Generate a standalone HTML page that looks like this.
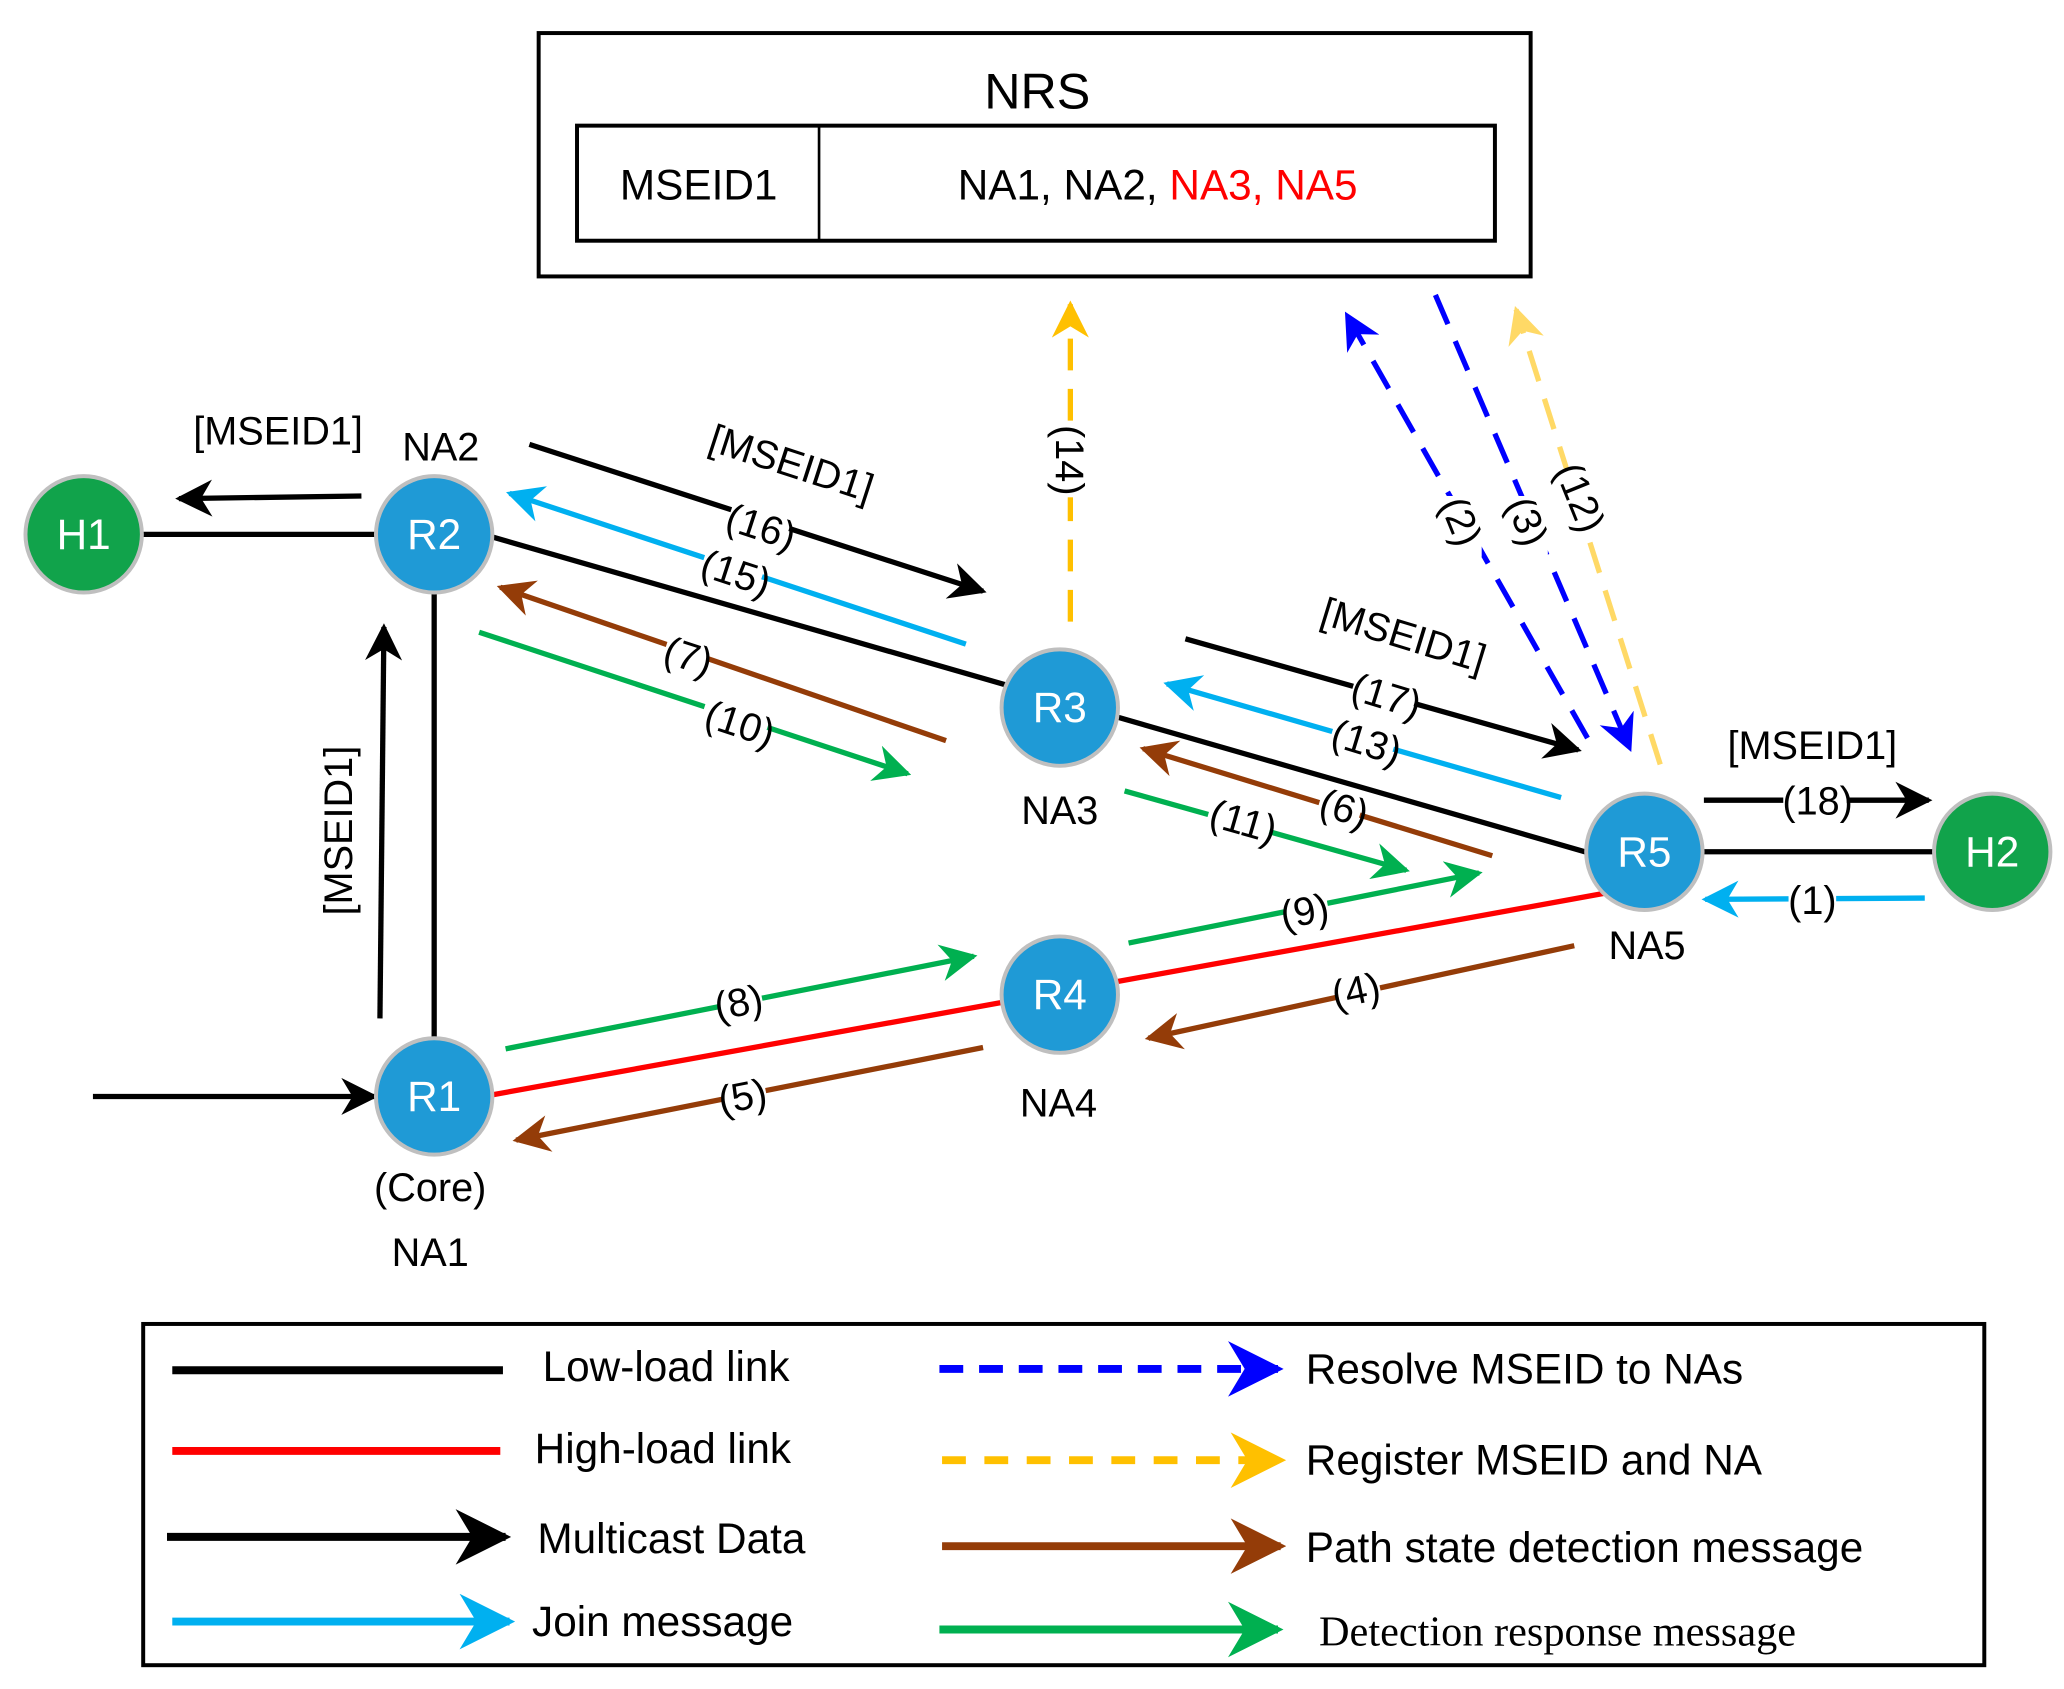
<!DOCTYPE html>
<html><head><meta charset="utf-8"><style>html,body{margin:0;padding:0;background:#fff}svg{display:block}</style></head>
<body>
<svg width="2064" height="1689" viewBox="0 0 1560 1277" xmlns="http://www.w3.org/2000/svg" font-family="'Liberation Sans', sans-serif">
<defs>
<marker id="mk" viewBox="0 0 10 10" refX="9" refY="5" markerWidth="7" markerHeight="7" orient="auto"><path d="M0,0 L10,5 L0,10 L3,5 z" fill="#000"/></marker>
<marker id="mc" viewBox="0 0 10 10" refX="9" refY="5" markerWidth="7" markerHeight="7" orient="auto"><path d="M0,0 L10,5 L0,10 L3,5 z" fill="#00b0f0"/></marker>
<marker id="mb" viewBox="0 0 10 10" refX="9" refY="5" markerWidth="7" markerHeight="7" orient="auto"><path d="M0,0 L10,5 L0,10 L3,5 z" fill="#943c08"/></marker>
<marker id="mg" viewBox="0 0 10 10" refX="9" refY="5" markerWidth="7" markerHeight="7" orient="auto"><path d="M0,0 L10,5 L0,10 L3,5 z" fill="#00b050"/></marker>
<marker id="my" viewBox="0 0 10 10" refX="9" refY="5" markerWidth="7" markerHeight="7" orient="auto"><path d="M0,0 L10,5 L0,10 L3,5 z" fill="#ffc000"/></marker>
<marker id="ml" viewBox="0 0 10 10" refX="9" refY="5" markerWidth="7" markerHeight="7" orient="auto"><path d="M0,0 L10,5 L0,10 L3,5 z" fill="#ffd966"/></marker>
<marker id="mu" viewBox="0 0 10 10" refX="9" refY="5" markerWidth="7" markerHeight="7" orient="auto"><path d="M0,0 L10,5 L0,10 L3,5 z" fill="#0000ff"/></marker>
</defs>

<!-- NRS -->
<rect x="407" y="25" width="750" height="184" fill="#fff" stroke="#000" stroke-width="3"/>
<text x="784" y="82" font-size="38" text-anchor="middle">NRS</text>
<rect x="436" y="95" width="694" height="87" fill="none" stroke="#000" stroke-width="3"/>
<line x1="619" y1="95" x2="619" y2="182" stroke="#000" stroke-width="2"/>
<text x="528" y="151" font-size="32" text-anchor="middle">MSEID1</text>
<text x="875" y="151" font-size="32" text-anchor="middle">NA1, NA2, <tspan fill="#ff0000">NA3, NA5</tspan></text>

<!-- links -->
<line x1="105" y1="404" x2="290" y2="404" stroke="#000" stroke-width="4"/>
<line x1="328" y1="440" x2="328" y2="790" stroke="#000" stroke-width="4"/>
<line x1="365" y1="404" x2="1205" y2="646" stroke="#000" stroke-width="4"/>
<line x1="365" y1="829" x2="1215" y2="675" stroke="#ff0000" stroke-width="4"/>
<line x1="1280" y1="644" x2="1470" y2="644" stroke="#000" stroke-width="4"/>

<!-- arrows -->
<g stroke-width="4" fill="none">
<line x1="273" y1="375" x2="135" y2="377" stroke="#000" marker-end="url(#mk)"/>
<line x1="400" y1="336" x2="743" y2="447" stroke="#000" marker-end="url(#mk)"/>
<line x1="730" y1="487" x2="385" y2="373" stroke="#00b0f0" marker-end="url(#mc)"/>
<line x1="715" y1="560" x2="378" y2="444" stroke="#943c08" marker-end="url(#mb)"/>
<line x1="362" y1="478" x2="686" y2="585" stroke="#00b050" marker-end="url(#mg)"/>
<line x1="287" y1="770" x2="290" y2="474" stroke="#000" marker-end="url(#mk)"/>
<line x1="70" y1="829" x2="283" y2="829" stroke="#000" marker-end="url(#mk)"/>
<line x1="809" y1="470" x2="809" y2="230" stroke="#ffc000" stroke-dasharray="24,14" marker-end="url(#my)"/>
<line x1="1200" y1="558" x2="1018" y2="238" stroke="#0000ff" stroke-dasharray="24,14" marker-end="url(#mu)"/>
<line x1="1085" y1="223" x2="1232" y2="566" stroke="#0000ff" stroke-dasharray="24,14" marker-end="url(#mu)"/>
<line x1="1255" y1="578" x2="1146" y2="234" stroke="#ffd966" stroke-dasharray="24,14" marker-end="url(#ml)"/>
<line x1="896" y1="483" x2="1193" y2="567" stroke="#000" marker-end="url(#mk)"/>
<line x1="1180" y1="603" x2="882" y2="517" stroke="#00b0f0" marker-end="url(#mc)"/>
<line x1="1128" y1="647" x2="864" y2="566" stroke="#943c08" marker-end="url(#mb)"/>
<line x1="850" y1="598" x2="1063" y2="658" stroke="#00b050" marker-end="url(#mg)"/>
<line x1="853" y1="713" x2="1118" y2="660" stroke="#00b050" marker-end="url(#mg)"/>
<line x1="382" y1="793" x2="736" y2="723" stroke="#00b050" marker-end="url(#mg)"/>
<line x1="743" y1="792" x2="390" y2="862" stroke="#943c08" marker-end="url(#mb)"/>
<line x1="1190" y1="715" x2="868" y2="785" stroke="#943c08" marker-end="url(#mb)"/>
<line x1="1288" y1="605" x2="1458" y2="605" stroke="#000" marker-end="url(#mk)"/>
<line x1="1455" y1="679" x2="1289" y2="680" stroke="#00b0f0" marker-end="url(#mc)"/>
</g>

<!-- label backgrounds + labels -->
<g font-size="30" text-anchor="middle">
<text x="210" y="336">[MSEID1]</text>
<text x="333" y="348">NA2</text>
<text transform="translate(595,360) rotate(18)">[MSEID1]</text>
<g><rect x="550" y="382" width="46" height="30" fill="#fff" transform="rotate(18,572,397)"/><text transform="translate(572,408) rotate(18)">(16)</text></g>
<g><rect x="530" y="418" width="46" height="30" fill="#fff" transform="rotate(18,553,432)"/><text transform="translate(553,443) rotate(18)">(15)</text></g>
<g><rect x="502" y="480" width="32" height="30" fill="#fff" transform="rotate(18,517,495)"/><text transform="translate(517,506) rotate(18)">(7)</text></g>
<g><rect x="530" y="531" width="50" height="30" fill="#fff" transform="rotate(18,556,546)"/><text transform="translate(556,557) rotate(18)">(10)</text></g>
<text transform="translate(266,628) rotate(-90)">[MSEID1]</text>
<g><rect x="792" y="320" width="34" height="56" fill="#fff"/><text transform="translate(798,348) rotate(90)">(14)</text></g>
<g><rect x="1090" y="375" width="30" height="46" fill="#fff"/><text transform="translate(1095,398) rotate(68)">(2)</text></g>
<g><rect x="1140" y="375" width="30" height="46" fill="#fff"/><text transform="translate(1145,398) rotate(68)">(3)</text></g>
<g><rect x="1180" y="355" width="30" height="50" fill="#fff"/><text transform="translate(1185,380) rotate(68)">(12)</text></g>
<text transform="translate(1058,490) rotate(17)">[MSEID1]</text>
<g><rect x="1022" y="510" width="48" height="30" fill="#fff" transform="rotate(17,1045,525)"/><text transform="translate(1045,536) rotate(17)">(17)</text></g>
<g><rect x="1006" y="545" width="48" height="30" fill="#fff" transform="rotate(17,1030,560)"/><text transform="translate(1030,571) rotate(17)">(13)</text></g>
<g><rect x="997" y="595" width="32" height="30" fill="#fff" transform="rotate(17,1013,610)"/><text transform="translate(1013,621) rotate(17)">(6)</text></g>
<g><rect x="913" y="605" width="48" height="30" fill="#fff" transform="rotate(16,937,620)"/><text transform="translate(937,631) rotate(16)">(11)</text></g>
<g><rect x="972" y="673" width="32" height="30" fill="#fff" transform="rotate(-11,988,688)"/><text transform="translate(988,699) rotate(-11)">(9)</text></g>
<g><rect x="544" y="742" width="32" height="30" fill="#fff" transform="rotate(-11,560,757)"/><text transform="translate(560,768) rotate(-11)">(8)</text></g>
<g><rect x="547" y="813" width="32" height="30" fill="#fff" transform="rotate(-11,563,828)"/><text transform="translate(563,839) rotate(-11)">(5)</text></g>
<g><rect x="1011" y="733" width="32" height="30" fill="#fff" transform="rotate(-12,1027,748)"/><text transform="translate(1027,759) rotate(-12)">(4)</text></g>
<text x="1370" y="574">[MSEID1]</text>
<g><rect x="1348" y="590" width="48" height="30" fill="#fff"/><text x="1374" y="616">(18)</text></g>
<g><rect x="1352" y="665" width="36" height="30" fill="#fff"/><text x="1370" y="691">(1)</text></g>
<text x="801" y="623">NA3</text>
<text x="1245" y="725">NA5</text>
<text x="800" y="844">NA4</text>
<text x="325" y="908">(Core)</text>
<text x="325" y="957">NA1</text>
</g>

<!-- nodes -->
<g stroke="#bfbfbf" stroke-width="3">
<circle cx="63" cy="404" r="44" fill="#11a34b"/>
<circle cx="1506" cy="644" r="44" fill="#11a34b"/>
<circle cx="328" cy="404" r="44" fill="#1f9ad6"/>
<circle cx="801" cy="535" r="44" fill="#1f9ad6"/>
<circle cx="801" cy="752" r="44" fill="#1f9ad6"/>
<circle cx="1243" cy="644" r="44" fill="#1f9ad6"/>
<circle cx="328" cy="829" r="44" fill="#1f9ad6"/>
</g>
<g font-size="32" fill="#fff" text-anchor="middle">
<text x="63" y="415">H1</text><text x="1506" y="655">H2</text>
<text x="328" y="415">R2</text><text x="801" y="546">R3</text>
<text x="801" y="763">R4</text><text x="1243" y="655">R5</text>
<text x="328" y="840">R1</text>
</g>

<!-- legend -->
<rect x="108" y="1001" width="1392" height="258" fill="none" stroke="#000" stroke-width="3"/>
<g stroke-width="6" fill="none">
<line x1="130" y1="1036" x2="380" y2="1036" stroke="#000"/>
<line x1="130" y1="1097" x2="378" y2="1097" stroke="#ff0000"/>
<line x1="126" y1="1162" x2="382" y2="1162" stroke="#000" marker-end="url(#mk)"/>
<line x1="130" y1="1226" x2="385" y2="1226" stroke="#00b0f0" marker-end="url(#mc)"/>
<line x1="710" y1="1035" x2="966" y2="1035" stroke="#0000ff" stroke-dasharray="18,12" marker-end="url(#mu)"/>
<line x1="712" y1="1104" x2="968" y2="1104" stroke="#ffc000" stroke-dasharray="18,14" marker-end="url(#my)"/>
<line x1="712" y1="1169" x2="968" y2="1169" stroke="#943c08" marker-end="url(#mb)"/>
<line x1="710" y1="1232" x2="966" y2="1232" stroke="#00b050" marker-end="url(#mg)"/>
</g>
<g font-size="32">
<text x="410" y="1044">Low-load link</text>
<text x="404" y="1106">High-load link</text>
<text x="406" y="1174">Multicast Data</text>
<text x="402" y="1237">Join message</text>
<text x="987" y="1046">Resolve MSEID to NAs</text>
<text x="987" y="1115">Register  MSEID and NA</text>
<text x="987" y="1181">Path state detection message</text>
<text x="997" y="1244" font-family="'Liberation Serif', serif">Detection response  message</text>
</g>
</svg>
</body></html>
